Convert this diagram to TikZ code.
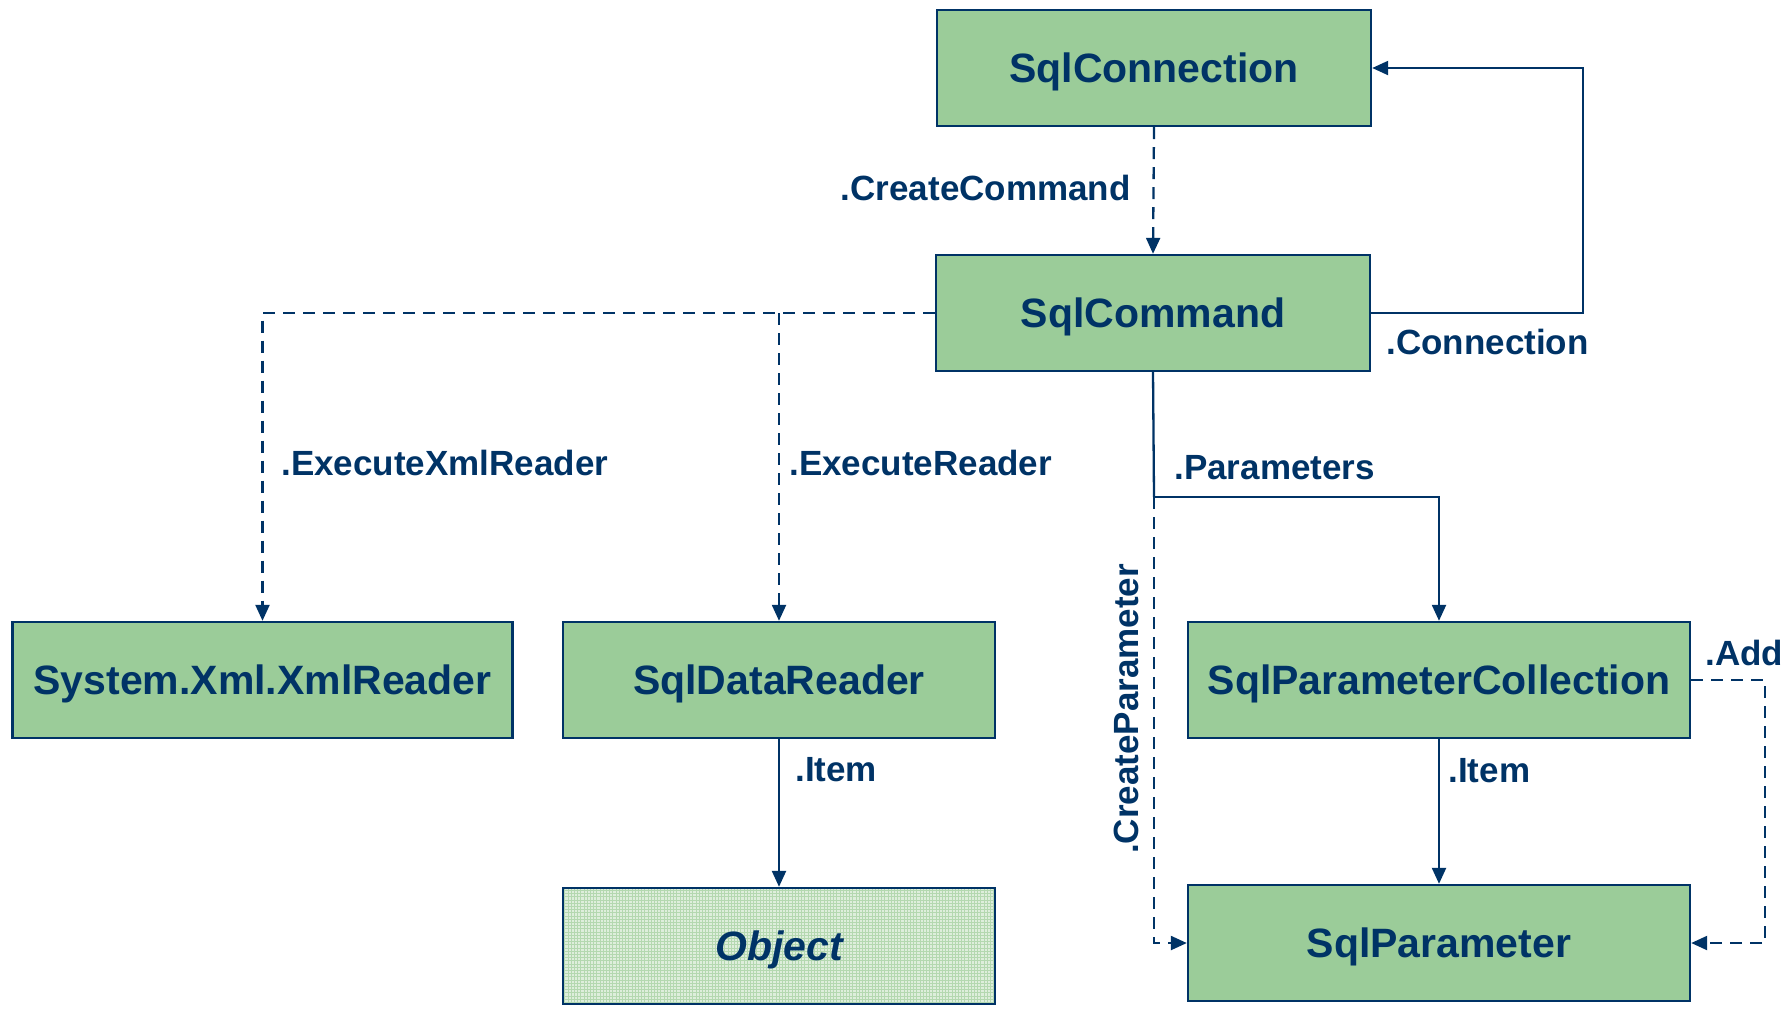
\documentclass[tikz,border=0pt]{standalone}
\usepackage{fontspec}
\setmainfont{Liberation Sans}
\usetikzlibrary{arrows.meta}
\definecolor{boxfill}{RGB}{155,204,153}
\definecolor{ink}{RGB}{0,51,102}
\definecolor{gridbase}{RGB}{222,238,220}
\definecolor{gridline}{RGB}{180,216,176}
\tikzset{
  classbox/.style={draw=ink, line width=1.2pt, fill=boxfill, text=ink,
    minimum height=58pt, inner sep=0pt, text height=14.7pt, text depth=0pt,
    font=\fontsize{20.5}{24}\selectfont\bfseries},
  objbox/.style={classbox, fill=gridbase,
    path picture={\draw[gridline, line width=0.35pt]
      (path picture bounding box.south west) grid[step=1.6pt]
      (path picture bounding box.north east);},
    font=\fontsize{20.5}{24}\selectfont\bfseries\itshape},
  conn/.style={draw=ink, line width=1.15pt,
    -{Triangle[length=8pt,width=7pt]}},
  plain/.style={draw=ink, line width=1.15pt},
  dashline/.style={dash pattern=on 6pt off 4pt},
  lbl/.style={text=ink, inner sep=0pt, anchor=west,
    font=\fontsize{17.5}{20}\selectfont\bfseries}
}
\begin{document}
\begin{tikzpicture}[x=0.5pt,y=-0.5pt]
\useasboundingbox (0,0) rectangle (1786,1009);

% classes
\node[classbox, minimum width=217pt] (conn) at (1154,68) {SqlConnection};
\node[classbox, minimum width=217pt] (cmd) at (1153,313) {SqlCommand};
\node[classbox, minimum width=250pt] (xml) at (262.5,680) {System.Xml.XmlReader};
\node[classbox, minimum width=216pt] (dr) at (779,680) {SqlDataReader};
\node[classbox, minimum width=251pt] (pc) at (1439,680) {SqlParameterCollection};
\node[objbox, minimum width=216pt] (obj) at (779,946) {Object};
\node[classbox, minimum width=251pt] (par) at (1439,943) {SqlParameter};

% junction points
\coordinate (rdbranch) at (cmd.west -| dr.north);
\coordinate (pjoin) at (1154,497);

% SqlConnection -> SqlCommand
\draw[conn, dashline] (conn.south) -- (cmd.north);
\node[lbl, anchor=east] (lcreate) at (1131,188) {.CreateCommand};

% SqlCommand -> SqlConnection
\draw[conn] (cmd.east) -- ++(212,0) |- (conn.east);
\node[lbl] (lconn) at (1386,342) {.Connection};

% readers
\draw[conn, dashline] (cmd.west) -| (xml.north);
\draw[conn, dashline] (rdbranch) -- (dr.north);
\node[lbl] (lxml) at (281,463) {.ExecuteXmlReader};
\node[lbl] (lrd) at (789,463) {.ExecuteReader};

% parameters
\draw[plain] (cmd.south) -- (pjoin);
\draw[conn] (pjoin) -| (pc.north);
\node[lbl] (lpars) at (1174,468) {.Parameters};
\draw[conn, dashline] (pjoin) |- (par.west);
\node[lbl, anchor=center, rotate=90] (lcp) at (1126,709) {.CreateParameter};

% .Add
\draw[conn, dashline] (pc.east) -- ++(74,0) |- (par.east);
\node[lbl] (ladd) at (1705,653) {.Add};

% items
\draw[conn] (dr.south) -- (obj.north);
\node[lbl] (litem1) at (795,770) {.Item};
\draw[conn] (pc.south) -- (par.north);
\node[lbl] (litem2) at (1448,771) {.Item};
\end{tikzpicture}
\end{document}
